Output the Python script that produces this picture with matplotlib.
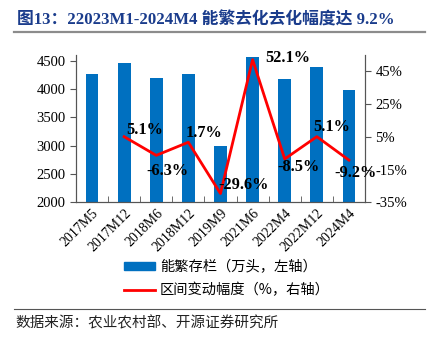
import matplotlib
matplotlib.use("Agg")
import matplotlib.pyplot as plt
from matplotlib.lines import Line2D

# data
months = ["2017M5", "2017M12", "2018M6", "2018M12", "2019M9",
          "2021M6", "2022M4", "2022M12", "2024M4"]
stock = [4260, 4466, 4185, 4260, 3000, 4571, 4180, 4390, 3986]
change = [None, 5.1, -6.3, 1.7, -29.6, 52.1, -8.5, 5.1, -9.2]
title = "图13：22023M1-2024M4 能繁去化去化幅度达 9.2%"
source = "数据来源：农业农村部、开源证券研究所"

serif = ["Liberation Serif", "Noto Sans CJK SC"]
cjk = ["Noto Sans CJK SC", "DejaVu Sans"]

fig = plt.figure(figsize=(4.34, 3.39), dpi=100)
ax = fig.add_axes([0.175, 0.403, 0.666, 0.435])
ax2 = ax.twinx()

x = list(range(len(months)))
ax.bar(x, stock, width=0.4, color="#0070C0", zorder=2)
ax.set_ylim(2000, 4600)
ax.set_yticks([2000, 2500, 3000, 3500, 4000, 4500])
ax.set_xlim(-0.5, len(months) - 0.5)
ax.set_xticks(x)
ax.set_xticklabels(months, rotation=45, ha="right", rotation_mode="anchor",
                   family=serif, fontsize=10)
ax.tick_params(axis="x", length=0, pad=3)
# small marks between categories
ax.set_xticks([i + 0.5 for i in x[:-1]], minor=True)
ax.tick_params(axis="x", which="minor", direction="in", length=4, color="#555555")
ax.tick_params(axis="y", direction="out", length=4, labelsize=10.5, color="#555555")
for lab in ax.get_yticklabels():
    lab.set_family(serif)

xs = [i for i, v in zip(x, change) if v is not None]
ys = [v for v in change if v is not None]
ax2.plot(xs, ys, color="#FF0000", lw=2, zorder=3)
ax2.set_ylim(-35, 55)
ax2.set_yticks([-35, -15, 5, 25, 45])
ax2.set_yticklabels([f"{t}%" for t in [-35, -15, 5, 25, 45]], family=serif, fontsize=10.5)
ax2.tick_params(axis="y", direction="out", length=4, color="#555555")

for sp in ["top"]:
    ax.spines[sp].set_visible(False)
    ax2.spines[sp].set_visible(False)
for a in (ax, ax2):
    for sp in ["left", "right", "bottom"]:
        a.spines[sp].set_color("#555555")

# data labels (offset in points)
offsets = {1: (15, 4.5), 2: (8, -11.5), 3: (11.5, 6.5), 4: (16.5, 6), 5: (25, 1),
           6: (10, -6), 7: (11, 7), 8: (5, -9.5)}
for i, v in zip(xs, ys):
    dx, dy = offsets[i]
    ax2.annotate(f"{v:.1f}%", (i, v), xytext=(dx, dy), textcoords="offset points",
                 ha="center", va="center", fontsize=11.8, fontweight="bold",
                 family=serif, zorder=5)

# legend
handles = [plt.Rectangle((0, 0), 1, 1, color="#0070C0"),
           Line2D([0], [0], color="#FF0000", lw=2)]
labels = ["能繁存栏（万头，左轴）", "区间变动幅度（%，右轴）"]
fig.legend(handles, labels, loc="upper left", bbox_to_anchor=(0.255, 0.27),
           frameon=False, prop={"family": cjk, "size": 10.3},
           handlelength=2.2, handleheight=0.5, labelspacing=0.6, handletextpad=0.35)

# title and rules
fig.text(0.04, 0.94, title, fontsize=12.1, fontweight="bold", color="#1A3C8C",
         family=serif, va="center")
fig.add_artist(Line2D([0.032, 0.98], [0.905, 0.905], color="#8C8C8C", lw=1.6))
fig.add_artist(Line2D([0.032, 0.98], [0.088, 0.088], color="#555555", lw=0.8))
fig.text(0.035, 0.047, source, fontsize=10.5, family=cjk, va="center", color="#222222")

fig.savefig("out.png", dpi=100)
